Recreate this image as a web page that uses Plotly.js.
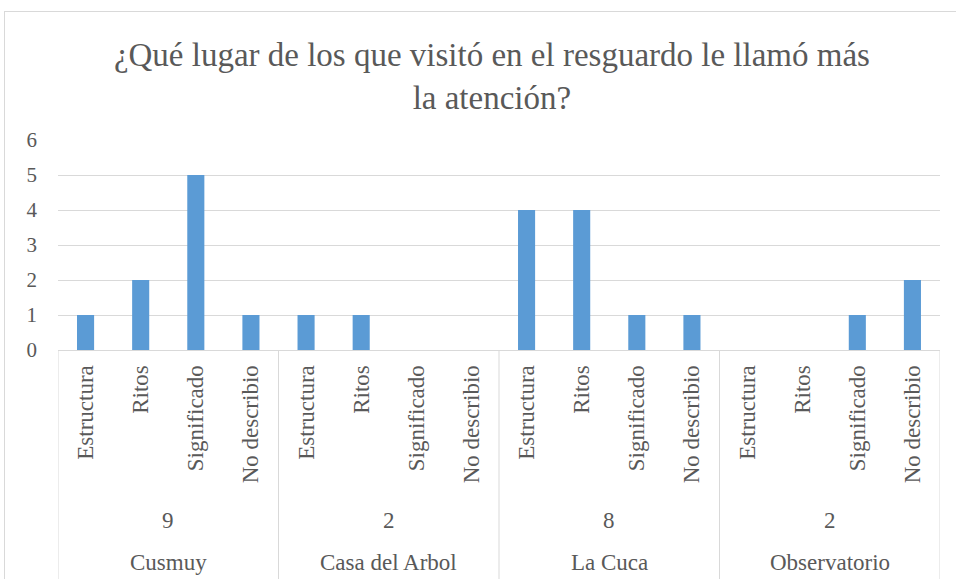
<!DOCTYPE html>
<html>
<head>
<meta charset="utf-8">
<script src="https://cdn.plot.ly/plotly-3.0.1.min.js"></script>
</head>
<body style="margin:0">
<div style="position:absolute;left:4px;top:11px;width:970px;height:590px;border-left:1px solid #d9d9d9;border-top:1px solid #d9d9d9;"></div>
<div id="chart" style="position:absolute;left:5px;top:12px;"></div>
<script>
const places = ["Cusmuy", "Casa del Arbol", "La Cuca", "Observatorio"];
const placeCounts = ["9", "2", "8", "2"];
const aspects = ["Estructura", "Ritos", "Significado", "No describio"];
const cusmuy = [1, 2, 5, 1];
const casaDelArbol = [1, 1, 0, 0];
const laCuca = [4, 4, 1, 1];
const observatorio = [0, 0, 1, 2];

const groups = [cusmuy, casaDelArbol, laCuca, observatorio];
const xIdx = [], yVals = [], tickText = [];
groups.forEach((g, gi) => {
  g.forEach((v, ai) => {
    xIdx.push(gi * aspects.length + ai);
    yVals.push(v);
    tickText.push(aspects[ai]);
  });
});

const nCats = xIdx.length;
const serifFamily = "Liberation Serif";
const textGrey = "#595959";

const sepShapes = [];
for (let g = 0; g <= places.length; g++) {
  const xb = g * aspects.length - 0.5;
  sepShapes.push({type: "line", xref: "x", yref: "paper", x0: xb, x1: xb, y0: 0, y1: -1.2,
                  line: {color: "#d9d9d9", width: 1}});
}

const groupNotes = [];
places.forEach((p, gi) => {
  const xc = gi * aspects.length + (aspects.length - 1) / 2;
  groupNotes.push({x: xc, xref: "x", y: 0, yref: "paper", yanchor: "middle", yshift: -170,
                   text: placeCounts[gi], showarrow: false,
                   font: {family: serifFamily, size: 23, color: textGrey}});
  groupNotes.push({x: xc, xref: "x", y: 0, yref: "paper", yanchor: "middle", yshift: -212,
                   text: p, showarrow: false,
                   font: {family: serifFamily, size: 23, color: textGrey}});
});

const trace = {
  type: "bar", x: xIdx, y: yVals,
  marker: {color: "#5b9bd5"},
  width: 0.31,
  hoverinfo: "y"
};

const layout = {
  width: 951, height: 567,
  margin: {l: 53, r: 16, t: 128, b: 229},
  paper_bgcolor: "#ffffff",
  plot_bgcolor: "#ffffff",
  showlegend: false,
  font: {family: serifFamily, color: textGrey},
  title: {
    text: "¿Qué lugar de los que visitó en el resguardo le llamó más<br>la atención?",
    xref: "container", x: 0.512, xanchor: "center",
    yref: "container", y: 0.905, yanchor: "middle",
    font: {family: serifFamily, size: 33, color: textGrey}
  },
  xaxis: {
    range: [-0.5, nCats - 0.5],
    tickmode: "array", tickvals: xIdx, ticktext: tickText,
    tickangle: -90,
    ticks: "outside", ticklen: 5, tickcolor: "rgba(0,0,0,0)",
    tickfont: {family: serifFamily, size: 23, color: textGrey},
    showgrid: false, zeroline: false,
    showline: true, linecolor: "#d9d9d9", linewidth: 1,
    fixedrange: true
  },
  yaxis: {
    range: [0, 6], dtick: 1, tick0: 0,
    showgrid: true, gridcolor: "#d9d9d9", gridwidth: 1,
    zeroline: false, showline: false,
    ticks: "", ticklabelstandoff: 20,
    tickfont: {family: serifFamily, size: 21, color: textGrey},
    fixedrange: true
  },
  shapes: sepShapes,
  annotations: groupNotes
};

Plotly.newPlot("chart", [trace], layout, {displayModeBar: false, staticPlot: true});
</script>
</body>
</html>
